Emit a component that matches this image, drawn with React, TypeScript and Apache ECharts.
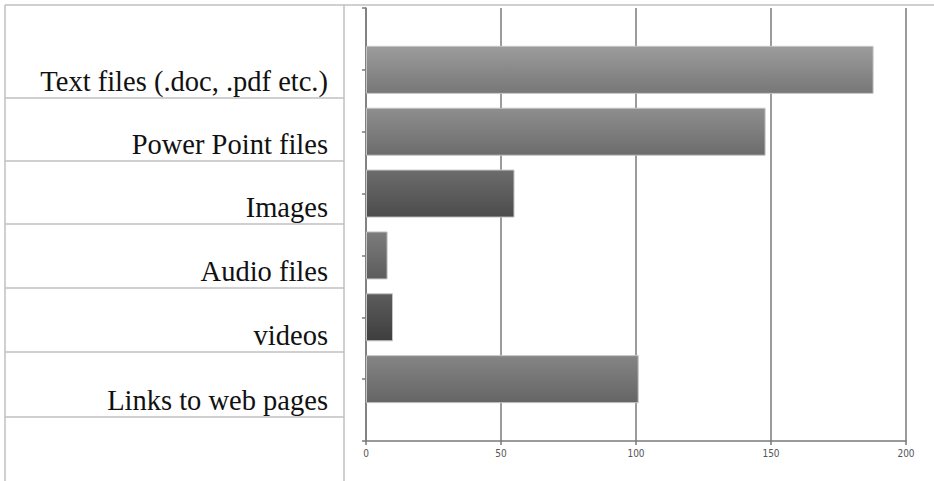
import React, { useEffect, useRef } from "react";
import * as echarts from "echarts";

const categories = [
  "Text files (.doc, .pdf etc.)",
  "Power Point files",
  "Images",
  "Audio files",
  "videos",
  "Links to web pages",
];
const values = [188, 148, 55, 8, 10, 101];
const barTopColors = ["#9c9c9c", "#8e8e8e", "#6c6c6c", "#7c7c7c", "#5c5c5c", "#858585"];
const barBottomColors = ["#777777", "#6c6c6c", "#4c4c4c", "#5c5c5c", "#3e3e3e", "#656565"];
const xTicks = [0, 50, 100, 150, 200];

// table layout (left panel)
const tableLeft = 5;
const tableRight = 344;
const tableTop = 5;
const rowLines = [98, 161, 224, 288, 352, 417];

export default function App() {
  const ref = useRef<HTMLDivElement>(null);
  useEffect(() => {
    const chart = echarts.init(ref.current!, undefined, { renderer: "svg" });
    const yData = ["", ...categories, ""];
    const seriesData = [
      null,
      ...values.map((v, i) => ({
        value: v,
        itemStyle: {
          color: new echarts.graphic.LinearGradient(0, 0, 0, 1, [
            { offset: 0, color: barTopColors[i] },
            { offset: 1, color: barBottomColors[i] },
          ]),
        },
      })),
      null,
    ];
    const lineStyle = { stroke: "#c0c0c0", lineWidth: 1.5 };
    const graphics: any[] = [
      { type: "line", shape: { x1: tableLeft, y1: tableTop, x2: 934, y2: tableTop }, style: lineStyle, silent: true },
      { type: "line", shape: { x1: tableLeft, y1: tableTop, x2: tableLeft, y2: 481 }, style: lineStyle, silent: true },
      { type: "line", shape: { x1: tableRight, y1: tableTop, x2: tableRight, y2: 481 }, style: lineStyle, silent: true },
      ...rowLines.map((y) => ({
        type: "line",
        shape: { x1: tableLeft, y1: y, x2: tableRight, y2: y },
        style: lineStyle,
        silent: true,
      })),
      ...categories.map((c, i) => ({
        type: "text",
        x: 328,
        y: rowLines[i] - 17,
        style: {
          text: c,
          font: "28.5px 'Liberation Serif', 'Times New Roman', serif",
          fill: "#111111",
          align: "right",
          verticalAlign: "middle",
        },
        silent: true,
      })),
    ];
    chart.setOption({
      animation: false,
      backgroundColor: "#ffffff",
      grid: { left: 366, right: 28, top: 8, bottom: 40 },
      xAxis: {
        type: "value",
        min: xTicks[0],
        max: xTicks[xTicks.length - 1],
        interval: xTicks[1] - xTicks[0],
        axisLine: { show: true, lineStyle: { color: "#7a7a7a", width: 1.5 } },
        axisTick: { show: true, length: 4, lineStyle: { color: "#7a7a7a", width: 1.5 } },
        axisLabel: {
          color: "#555555",
          fontSize: 10,
          fontFamily: "'DejaVu Sans Condensed', 'Liberation Sans Narrow', sans-serif",
          margin: 7,
        },
        splitLine: { show: true, lineStyle: { color: "#7a7a7a", width: 1.5 } },
      },
      yAxis: {
        type: "category",
        data: yData,
        inverse: true,
        boundaryGap: false,
        axisLine: { show: true, lineStyle: { color: "#7a7a7a", width: 1.5 } },
        axisTick: { show: true, length: 4, lineStyle: { color: "#7a7a7a", width: 1.5 } },
        axisLabel: { show: false },
        splitLine: { show: false },
      },
      series: [
        {
          type: "bar",
          data: seriesData,
          barWidth: 48,
          itemStyle: { borderColor: "#c4c4c4", borderWidth: 1 },
        },
      ],
      graphic: graphics,
    });
    return () => chart.dispose();
  }, []);
  return <div ref={ref} style={{ width: 934, height: 481, position: "absolute", left: 0, top: 0 }} />;
}
